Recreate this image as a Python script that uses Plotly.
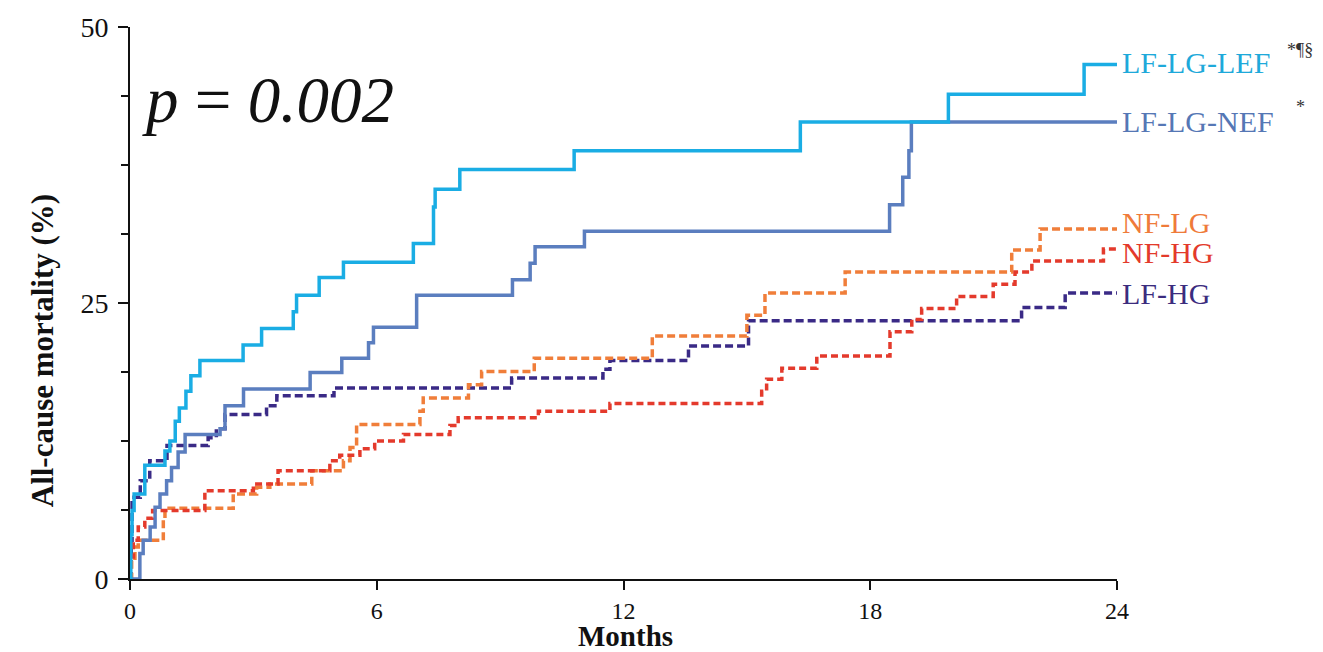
import plotly.graph_objects as go

# Kaplan-Meier style cumulative all-cause mortality (%) by flow / gradient group
lef_t = [0, 0.02, 0.05, 0.10, 0.36, 0.85, 0.97, 1.10, 1.20, 1.36, 1.48, 1.70, 2.75, 3.20,
         3.97, 4.05, 4.60, 5.19, 6.89, 7.38, 7.42, 8.02, 10.80, 16.30, 19.90, 23.20, 24]
lef_v = [0, 4.0, 6.2, 7.7, 10.3, 11.6, 12.5, 14.3, 15.5, 17.0, 18.4, 19.8, 21.2, 22.7,
         24.2, 25.7, 27.3, 28.7, 30.4, 33.7, 35.3, 37.1, 38.8, 41.4, 43.9, 46.6, 46.6]

nef_t = [0, 0.24, 0.32, 0.49, 0.61, 0.73, 0.89, 1.01, 1.17, 1.34, 2.19, 2.31, 2.76, 4.38,
         5.15, 5.80, 5.92, 6.97, 9.30, 9.73, 9.85, 11.05, 18.47, 18.79, 18.94, 19.00, 24]
nef_v = [0, 2.3, 3.5, 4.7, 6.5, 7.7, 8.9, 10.1, 11.5, 13.1, 13.6, 15.7, 17.2, 18.7,
         20.0, 21.4, 22.8, 25.7, 27.1, 28.6, 30.1, 31.5, 33.9, 36.4, 38.8, 41.4, 41.4]

nflg_t = [0, 0.04, 0.12, 0.20, 0.81, 0.85, 2.51, 3.08, 3.40, 4.42, 5.19, 5.35, 5.51, 7.05,
          7.13, 8.23, 8.55, 9.83, 12.70, 15.00, 15.44, 17.39, 21.44, 22.13, 24]
nflg_v = [0, 1.7, 2.9, 3.5, 5.5, 6.4, 7.7, 8.3, 8.6, 9.8, 10.7, 11.9, 14.0, 15.2,
          16.4, 17.6, 18.8, 20.0, 22.0, 23.9, 25.9, 27.8, 29.8, 31.7, 31.7]

nfhg_t = [0, 0.01, 0.08, 0.20, 0.36, 0.55, 1.82, 3.00, 3.60, 4.86, 5.10, 5.59, 5.95, 6.65,
          7.78, 7.98, 9.93, 11.67, 15.36, 15.48, 15.85, 16.70, 18.48, 19.01, 19.25, 20.10,
          20.99, 21.52, 21.93, 23.67, 24]
nfhg_v = [0, 2.0, 3.5, 4.7, 5.5, 6.2, 8.0, 8.6, 9.8, 10.7, 11.2, 11.8, 12.5, 13.1,
          13.9, 14.6, 15.2, 15.9, 17.0, 18.1, 19.1, 20.2, 22.4, 23.5, 24.5, 25.6,
          26.7, 27.8, 28.8, 29.9, 29.9]

lfhg_t = [0, 0.03, 0.05, 0.25, 0.48, 0.90, 1.90, 2.10, 2.31, 3.32, 3.57, 4.96, 9.28,
          11.50, 11.67, 13.58, 15.04, 21.68, 22.74, 24]
lfhg_v = [0, 3.5, 7.4, 8.9, 10.7, 12.1, 12.8, 13.6, 14.9, 15.7, 16.6, 17.3, 18.2,
          19.0, 19.8, 21.1, 23.4, 24.6, 25.9, 25.9]

x_ticks = [0, 6, 12, 18, 24]
y_ticks = [0, 25, 50]
Y_MAX = 50

series = [
    # name, times, values, line colour, dash, label height (%), label colour
    ("LF-HG", lfhg_t, lfhg_v, "#3A2A86", "8px,4px", 25.9, "#3B2C7E"),
    ("NF-LG", nflg_t, nflg_v, "#F07E3A", "8px,4px", 32.3, "#EF7B3A"),
    ("NF-HG", nfhg_t, nfhg_v, "#E43A2C", "7px,4px", 29.6, "#E33A2B"),
    ("LF-LG-NEF", nef_t, nef_v, "#5B7EBF", "solid", 41.4, "#5577B5"),
    ("LF-LG-LEF", lef_t, lef_v, "#1AADE4", "solid", 46.8, "#1EA9DA"),
]

serif = "Liberation Serif, Times New Roman, serif"

# plot area in pixels (used to place free text around the axes)
L, R, T, B = 130, 1117, 24, 579
W, H = R - L, B - T


def px(xp):
    return (xp - L) / W


def py(yp):
    return (B - yp) / H


fig = go.Figure()
for name, t, v, col, dash, _, _ in series:
    fig.add_trace(go.Scatter(
        x=t, y=v, mode="lines", name=name,
        line=dict(color=col, width=3.5, dash=dash, shape="hv"),
        showlegend=False,
    ))

annotations = []
for name, t, v, col, dash, ly, lcol in series:
    annotations.append(dict(
        x=px(1120), y=ly / Y_MAX, xref="paper", yref="paper", text=name,
        showarrow=False, xanchor="left", yanchor="middle",
        font=dict(family=serif, size=30, color=lcol),
    ))

# significance markers next to the group labels
annotations.append(dict(
    x=px(1285), y=py(47), xref="paper", yref="paper",
    text="*¶§", showarrow=False, xanchor="left", yanchor="middle",
    font=dict(family=serif, size=18, color="#333333"),
))
annotations.append(dict(
    x=px(1294), y=py(104), xref="paper", yref="paper",
    text="*", showarrow=False, xanchor="left", yanchor="middle",
    font=dict(family=serif, size=18, color="#333333"),
))

# log-rank p-value
annotations.append(dict(
    x=px(140), y=py(97), xref="paper", yref="paper",
    text="<i>p</i> = <i>0.002</i>", showarrow=False, xanchor="left", yanchor="middle",
    font=dict(family=serif, size=65, color="#111111"),
))

# axis titles
annotations.append(dict(
    x=px(42), y=py(350), xref="paper", yref="paper",
    text="<b>All-cause mortality (%)</b>", showarrow=False, textangle=-90,
    xanchor="center", yanchor="middle",
    font=dict(family=serif, size=31, color="#111111"),
))
annotations.append(dict(
    x=px(625), y=py(636), xref="paper", yref="paper",
    text="<b>Months</b>", showarrow=False, xanchor="center", yanchor="middle",
    font=dict(family=serif, size=29, color="#111111"),
))

fig.update_layout(
    width=1323, height=652,
    margin=dict(l=L, r=1323 - R, t=T, b=652 - B),
    paper_bgcolor="white", plot_bgcolor="white",
    annotations=annotations,
    xaxis=dict(
        range=[0, 24], tickvals=x_ticks, ticktext=[str(v) for v in x_ticks],
        showgrid=False, zeroline=False, showline=True, linecolor="#111111", linewidth=2,
        ticks="outside", ticklen=9, tickwidth=2, tickcolor="#111111",
        ticklabelstandoff=0,
        tickfont=dict(family=serif, size=24, color="#111111"),
    ),
    yaxis=dict(
        range=[0, Y_MAX], tickvals=y_ticks, ticktext=[str(v) for v in y_ticks],
        showgrid=False, zeroline=False, showline=True, linecolor="#111111", linewidth=2,
        ticks="outside", ticklen=10, tickwidth=2, tickcolor="#111111",
        ticklabelstandoff=4,
        tickfont=dict(family=serif, size=28, color="#111111"),
        minor=dict(dtick=6.25, tick0=0, ticks="outside", ticklen=7, tickwidth=2,
                   tickcolor="#111111", showgrid=False),
    ),
)

fig.write_html("out.html")
